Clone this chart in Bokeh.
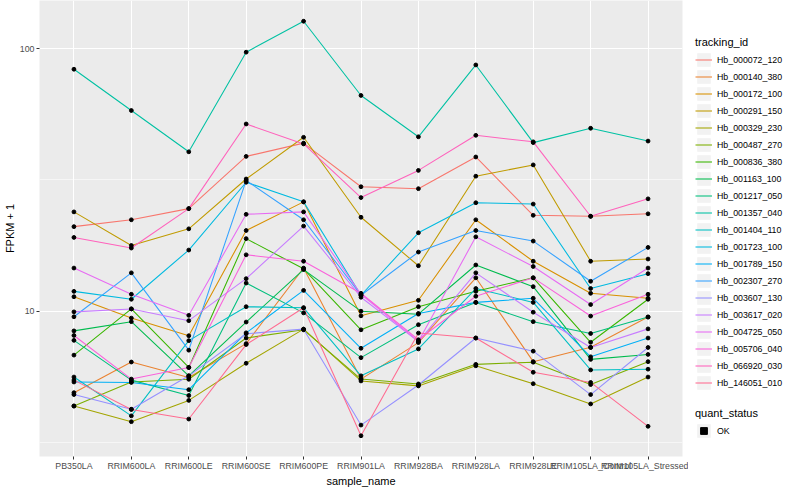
import math
from bokeh.plotting import figure
from bokeh.layouts import row
from bokeh.models import Range1d, FixedTicker, Legend, LegendItem, ColumnDataSource
from bokeh.embed import file_html
from bokeh.resources import INLINE

samples = ["PB350LA", "RRIM600LA", "RRIM600LE", "RRIM600SE", "RRIM600PE", "RRIM901LA",
           "RRIM928BA", "RRIM928LA", "RRIM928LE", "RRIM105LA_Control", "RRIM105LA_Stressed"]

tracking_ids = ["Hb_000072_120", "Hb_000140_380", "Hb_000172_100", "Hb_000291_150",
                "Hb_000329_230", "Hb_000487_270", "Hb_000836_380", "Hb_001163_100",
                "Hb_001217_050", "Hb_001357_040", "Hb_001404_110", "Hb_001723_100",
                "Hb_001789_150", "Hb_002307_270", "Hb_003607_130", "Hb_003617_020",
                "Hb_004725_050", "Hb_005706_040", "Hb_066920_030", "Hb_146051_010"]

colors = ["#F8766D", "#EA8331", "#D89000", "#C09B00", "#A3A500", "#7CAE00", "#39B600",
          "#00BB4E", "#00BF7D", "#00C1A3", "#00BFC4", "#00BAE0", "#00B0F6", "#35A2FF",
          "#9590FF", "#C77CFF", "#E76BF3", "#FA62DB", "#FF62BC", "#FF6C91"]

# FPKM + 1 per sample (order of `samples`)
hb_000072_120 = [21.0, 22.3, 24.6, 38.9, 43.7, 29.8, 29.3, 38.7, 23.2, 23.0, 23.5]
hb_000140_380 = [4.89, 6.40, 5.59, 7.52, 14.6, 5.51, 7.59, 13.4, 6.42, 7.28, 9.50]
hb_000172_100 = [11.35, 9.41, 8.06, 20.3, 26.1, 9.60, 11.0, 22.3, 15.5, 11.7, 11.2]
hb_000291_150 = [23.9, 17.8, 20.6, 31.9, 46.0, 22.8, 14.9, 32.7, 36.1, 15.5, 15.8]
hb_000329_230 = [4.35, 3.79, 4.57, 6.33, 8.54, 5.42, 5.19, 6.19, 5.29, 4.43, 5.61]
hb_000487_270 = [4.35, 5.37, 5.50, 7.90, 8.49, 5.51, 5.28, 6.27, 6.39, 5.25, 6.42]
hb_000836_380 = [6.80, 10.2, 6.10, 18.9, 14.5, 8.49, 10.4, 11.9, 13.4, 7.61, 11.1]
hb_001163_100 = [8.41, 9.12, 5.67, 9.09, 14.4, 10.0, 9.74, 15.0, 12.4, 6.55, 6.84]
hb_001217_050 = [7.74, 5.46, 4.77, 12.8, 9.85, 6.65, 8.88, 10.8, 9.12, 8.22, 9.50]
hb_001357_040 = [83.6, 58.2, 40.5, 97.1, 127.4, 66.4, 46.2, 86.8, 43.9, 49.8, 44.5]
hb_001404_110 = [5.61, 3.99, 7.72, 10.4, 10.3, 5.67, 7.18, 12.2, 10.8, 5.97, 6.01]
hb_001723_100 = [11.9, 11.1, 17.1, 31.0, 26.1, 11.5, 19.9, 25.9, 25.6, 12.2, 13.9]
hb_001789_150 = [5.37, 5.35, 5.02, 8.27, 12.0, 7.22, 9.80, 10.8, 11.2, 6.70, 7.90]
hb_002307_270 = [9.52, 14.0, 7.10, 31.5, 22.3, 11.5, 16.8, 20.3, 18.5, 13.0, 17.5]
hb_003607_130 = [4.81, 4.23, 5.67, 8.20, 8.54, 3.68, 5.23, 7.90, 7.04, 4.81, 7.27]
hb_003617_020 = [9.94, 10.2, 9.20, 13.3, 21.1, 11.3, 7.65, 14.0, 9.91, 7.27, 8.56]
hb_004725_050 = [14.6, 11.6, 9.64, 23.4, 23.9, 11.6, 7.67, 19.2, 14.8, 10.6, 14.6]
hb_005706_040 = [8.08, 5.51, 6.10, 16.4, 15.5, 11.7, 7.78, 11.4, 13.4, 9.58, 11.6]
hb_066920_030 = [19.1, 17.4, 24.6, 51.7, 43.4, 27.1, 34.4, 46.8, 44.2, 23.0, 26.8]
hb_146051_010 = [5.46, 4.22, 3.88, 7.46, 10.3, 3.35, 8.25, 7.90, 5.85, 5.35, 3.64]

series = [hb_000072_120, hb_000140_380, hb_000172_100, hb_000291_150, hb_000329_230,
          hb_000487_270, hb_000836_380, hb_001163_100, hb_001217_050, hb_001357_040,
          hb_001404_110, hb_001723_100, hb_001789_150, hb_002307_270, hb_003607_130,
          hb_003617_020, hb_004725_050, hb_005706_040, hb_066920_030, hb_146051_010]

quant_status = ["OK"]

FONT = "Liberation Sans"

# ggplot-like 5% expansion on the log scale
all_vals = [v for s in series for v in s]
lo, hi = math.log10(min(all_vals)), math.log10(max(all_vals))
pad = (hi - lo) * 0.05
y_lo, y_hi = 10 ** (lo - pad), 10 ** (hi + pad)

xs = list(range(1, len(samples) + 1))

p = figure(frame_width=643, frame_height=456, y_axis_type="log",
           x_range=Range1d(0.4, len(samples) + 0.6), y_range=Range1d(y_lo, y_hi),
           output_backend="svg", toolbar_location=None,
           min_border_left=30, min_border_right=6, min_border_top=0, min_border_bottom=28,
           background_fill_color="#EBEBEB", border_fill_color="white",
           outline_line_color=None)

# axes
p.xaxis.ticker = FixedTicker(ticks=xs)
p.xaxis.major_label_overrides = {x: s for x, s in zip(xs, samples)}
p.yaxis.ticker = FixedTicker(ticks=[10, 100], minor_ticks=[10 ** 0.5, 10 ** 1.5])
p.yaxis.major_label_overrides = {10: "10", 100: "100"}
for ax in (p.xaxis[0], p.yaxis[0]):
    ax.axis_line_color = None
    ax.major_tick_line_color = "#333333"
    ax.major_tick_in = 0
    ax.major_tick_out = 3
    ax.minor_tick_line_color = None
    ax.major_label_text_font = FONT
    ax.major_label_text_font_size = "8.8px"
    ax.major_label_text_color = "#4D4D4D"
    ax.major_label_standoff = 1
    ax.axis_label_text_font = FONT
    ax.axis_label_text_font_size = "11px"
    ax.axis_label_text_font_style = "normal"
    ax.axis_label_text_color = "black"
    ax.axis_label_standoff = 1
p.xaxis.axis_label = "sample_name"
p.yaxis.axis_label = "FPKM + 1"

p.xgrid.grid_line_color = "white"
p.xgrid.grid_line_width = 1.1
p.ygrid.grid_line_color = "white"
p.ygrid.grid_line_width = 1.1
p.ygrid.minor_grid_line_color = "white"
p.ygrid.minor_grid_line_width = 0.55

# lines
for col, vals in zip(colors, series):
    p.line(x=xs, y=vals, line_color=col, line_width=1.07)

# points
pts = ColumnDataSource(data=dict(
    x=[x for s in series for x in xs],
    y=[v for s in series for v in s],
))
p.scatter(x="x", y="y", source=pts, size=3.8, marker="circle",
          fill_color="black", line_color="black")

# legend panel (separate figure so legends are not clipped by the data frame)
lf = figure(width=100, height=484, x_range=Range1d(0, 1), y_range=Range1d(0, 1),
            output_backend="svg", toolbar_location=None,
            x_axis_location=None, y_axis_location=None, min_border=0,
            outline_line_color=None, background_fill_color="white")
lf.xgrid.visible = False
lf.ygrid.visible = False

# key renderers sit outside the visible range; only their legend glyphs are shown
off = dict(x=[-5, -4], y=[-5, -4])
key_bg = lf.rect(x=off["x"], y=off["y"], width=1, height=1,
                 fill_color="#F2F2F2", line_color=None)
items = []
for tid, col in zip(tracking_ids, colors):
    r = lf.line(x=off["x"], y=off["y"], line_color=col, line_width=1.07)
    items.append(LegendItem(label=tid, renderers=[key_bg, r]))
ok_r = lf.scatter(x=off["x"][:1], y=off["y"][:1], marker="square", size=4,
                  fill_color="black", line_color="black")


def style_legend(lg):
    lg.title_text_font = FONT
    lg.title_text_font_size = "11px"
    lg.title_text_font_style = "normal"
    lg.title_text_color = "black"
    lg.title_standoff = 3
    lg.label_text_font = FONT
    lg.label_text_font_size = "8.8px"
    lg.label_text_color = "black"
    lg.glyph_height = 17
    lg.glyph_width = 17
    lg.label_height = 17
    lg.label_standoff = 5
    lg.spacing = 0
    lg.padding = 0
    lg.margin = 0
    lg.border_line_color = None
    lg.background_fill_alpha = 0


leg1 = Legend(items=items, title="tracking_id", location=(7, 60))
style_legend(leg1)
lf.add_layout(leg1, "center")

leg2 = Legend(items=[LegendItem(label=quant_status[0], renderers=[key_bg, ok_r])],
              title="quant_status", location=(7, 12))
style_legend(leg2)
lf.add_layout(leg2, "center")

layout = row(p, lf)
open("out.html", "w").write(file_html(layout, INLINE))
